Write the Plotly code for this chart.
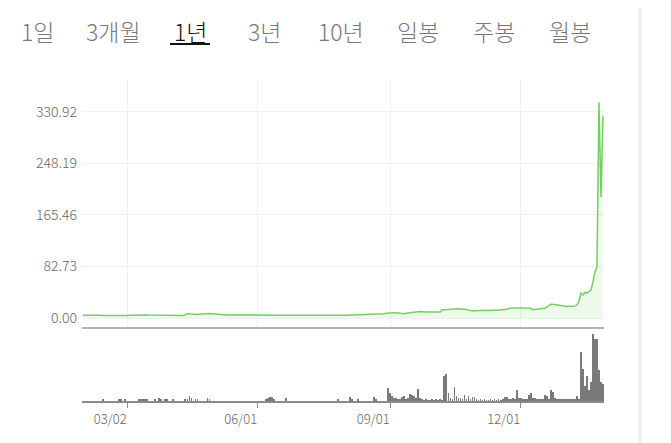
import plotly.graph_objects as go
import pandas as pd

# trading days shown on the 1-year chart
dates = pd.bdate_range("2020-01-30", "2021-01-27").strftime("%Y-%m-%d").tolist()

# closing price per day
price = [
    4.5, 4.6, 4.4, 4.5, 4.3, 4.4, 4.6, 4.5, 4.4, 4.3,
    4.2, 4.0, 4.1, 3.9, 4.0, 3.8, 3.9, 4.0, 3.8, 3.7,
    3.7, 3.9, 4.1, 4.3, 4.5, 4.4, 4.6, 4.8, 4.9, 5.0,
    5.1, 5.0, 5.0, 4.8, 4.7, 4.9, 4.6, 4.5, 4.2, 4.0,
    4.0, 4.2, 4.1, 3.8, 3.6, 3.4, 3.3, 3.2, 3.3, 3.6,
    4.0, 5.5, 7.2, 6.8, 6.4, 6.0, 5.8, 5.6, 6.2, 6.6,
    6.9, 7.0, 7.2, 7.2, 7.0, 6.6, 6.3, 6.2, 5.9, 5.6,
    5.4, 5.1, 4.9, 4.8, 4.7, 4.8, 4.6, 4.7, 4.9, 4.8,
    4.7, 4.8, 4.9, 5.0, 4.8, 4.7, 4.8, 4.9, 4.7, 4.6,
    4.8, 4.9, 5.0, 4.8, 4.7, 4.6, 4.5, 4.6, 4.7, 4.6,
    4.5, 4.6, 4.5, 4.4, 4.5, 4.6, 4.4, 4.3, 4.4, 4.3,
    4.3, 4.4, 4.3, 4.2, 4.3, 4.4, 4.3, 4.2, 4.3, 4.4,
    4.3, 4.4, 4.5, 4.4, 4.3, 4.4, 4.3, 4.4, 4.5, 4.6,
    4.5, 4.6, 4.7, 4.6, 4.7, 4.8, 4.7, 4.8, 4.9, 5.0,
    5.0, 5.1, 5.2, 5.4, 5.6, 5.5, 5.8, 5.9, 6.0, 6.3,
    7.0, 7.8, 8.2, 8.6, 8.4, 8.5, 8.3, 8.0, 7.2, 6.4,
    6.8, 7.5, 8.1, 8.5, 9.0, 9.6, 10.2, 10.0, 10.3, 9.8,
    10.1, 9.8, 9.6, 9.7, 9.5, 9.6, 9.8, 9.6, 9.7, 13.4,
    13.2, 13.6, 13.8, 14.0, 14.4, 14.2, 14.6, 14.8, 14.5, 14.4,
    14.2, 13.8, 12.5, 11.8, 11.5, 11.7, 12.0, 12.3, 12.1, 12.2,
    12.4, 12.0, 12.3, 12.1, 12.4, 12.2, 12.5, 12.3, 12.6, 12.8,
    13.2, 14.0, 15.2, 16.0, 16.2, 16.0, 16.3, 16.1, 16.4, 16.2,
    16.0, 16.3, 16.5, 15.8, 13.4, 13.6, 14.0, 14.4, 14.6, 15.0,
    15.8, 17.5, 20.0, 22.0, 22.2, 21.6, 21.0, 20.2, 19.4, 18.9,
    18.7, 18.5, 18.9, 18.6, 18.8, 19.5, 21.0, 26.0, 40.0, 37.0,
    41.0, 40.0, 42.0, 45.0, 58.0, 74.0, 82.0, 346.0, 194.0, 325.0,
]

# traded volume per day (relative, largest day = 100)
volume = [
    0, 0, 0, 0, 0, 0, 0, 0, 0, 0,
    3, 0, 0, 0, 0, 0, 0, 0, 3, 2.5,
    0, 3, 0, 0, 0, 0, 0, 0, 2.5, 3,
    2.5, 3, 2.5, 0, 0, 0, 3, 0, 4.5, 3,
    0, 3, 3, 0, 0, 2.5, 0, 0, 0, 0,
    0, 2.5, 3.5, 8, 4.5, 0, 2.5, 2.5, 0, 0,
    0, 0, 4.5, 3.5, 0, 0, 0, 0, 0, 0,
    0, 0, 0, 0, 0, 0, 0, 0, 0, 0,
    0, 0, 0, 0, 0, 0, 0, 0, 0, 0,
    0, 3, 4.5, 6, 6.5, 3, 0, 0, 0, 0,
    0, 4.5, 0, 0, 0, 0, 0, 0, 0, 0,
    0, 0, 0, 0, 0, 0, 0, 0, 0, 0,
    0, 0, 0, 0, 0, 0, 0, 3, 0, 0,
    0, 0, 0, 6, 3, 0, 0, 3, 0, 0,
    0, 0, 0, 0, 0, 6, 3, 0, 0, 0,
    0, 0, 19, 12, 8, 5, 4, 3, 2, 6.5,
    7.5, 3, 4, 10, 9.5, 8, 4, 18, 4, 2.5,
    1.5, 2, 1, 1, 2, 1, 2, 1, 2, 1,
    38, 40, 12, 4, 3, 21, 7, 5, 4, 3,
    9, 3, 7.5, 2, 6, 5.5, 2, 1.5, 2, 1,
    2, 1, 1.5, 2, 1, 2.5, 1, 2, 1.5, 2,
    5.5, 5.5, 3, 2, 4, 2, 16, 4.5, 4, 3,
    2.5, 3.5, 9, 12, 5, 4, 3, 2.5, 3, 2,
    9, 8, 3, 16, 14, 4, 3, 2.5, 3, 2,
    2.5, 2, 3, 2.5, 2, 3, 8, 2.5, 73, 48,
    23, 38, 17, 29, 100, 92, 92, 47, 29, 25,
]

tick_dates = ["2020-03-02", "2020-06-01", "2020-09-01", "2020-12-01"]
tick_text = ["03/02", "06/01", "09/01", "12/01"]
price_ticks = [0.00, 82.73, 165.46, 248.19, 330.92]

tabs = ["1일", "3개월", "1년", "3년", "10년", "일봉", "주봉", "월봉"]
selected_tab = "1년"

# the page puts the figure 8px in from the top-left corner,
# so every screen position below is moved back by that much
OFF = 8
W, H = 671, 443
L, R, T, B = 82 - OFF, 604 - OFF, 80 - OFF, 401 - OFF

def px(x):
    return (x - OFF - L) / (R - L)

def py(y):
    return (B - (y - OFF)) / (B - T)

fig = go.Figure()

fig.add_trace(go.Scatter(
    x=dates, y=price, mode="lines", fill="tozeroy",
    line=dict(color="#74cf61", width=1.5),
    fillcolor="rgba(120,215,100,0.13)",
    xaxis="x", yaxis="y", hoverinfo="skip",
))

fig.add_trace(go.Bar(
    x=dates, y=volume, width=0.4,
    marker=dict(color="#7a7a7a", line=dict(width=0)),
    xaxis="x2", yaxis="y2", hoverinfo="skip",
))

font_kr = "Noto Sans CJK KR, Noto Sans, sans-serif"

fig.update_layout(
    width=W, height=H,
    margin=dict(l=L, r=W - R, t=T, b=H - B),
    paper_bgcolor="white", plot_bgcolor="white",
    showlegend=False, bargap=0,
    font=dict(family=font_kr, color="#666"),
    xaxis=dict(
        type="category", anchor="y", domain=[0, 1],
        range=[-0.5, len(dates) - 0.5],
        tickvals=tick_dates, ticktext=tick_text, showticklabels=False,
        showgrid=True, gridcolor="#efefef", gridwidth=1,
        showline=True, linecolor="#b3b3b3", linewidth=2, ticks="",
    ),
    yaxis=dict(
        domain=[py(327), 1], range=[-14.4, 381.8],
        tickvals=price_ticks, ticktext=["%.2f" % v for v in price_ticks],
        tickfont=dict(size=14, color="#666", weight=300),
        showgrid=True, gridcolor="#efefef", gridwidth=1,
        zeroline=False, ticks="", ticklabelstandoff=4,
    ),
    xaxis2=dict(
        type="category", anchor="y2", matches="x", domain=[0, 1],
        tickvals=tick_dates, ticktext=tick_text,
        tickfont=dict(size=13, color="#666", weight=300),
        ticklabelshift=-17,
        showgrid=False, showline=True, linecolor="#8a8a8a", linewidth=2,
        ticks="outside", ticklen=5, tickcolor="#8a8a8a",
    ),
    yaxis2=dict(domain=[0, py(331)], range=[0, 104.5], visible=False),
)

# period tabs on top
tab_centers = [37.5, 113, 190, 264, 341, 417.5, 493.5, 569.5]
for name, cx in zip(tabs, tab_centers):
    fig.add_annotation(
        x=px(cx), y=py(31), xref="paper", yref="paper", text=name,
        showarrow=False, xanchor="center", yanchor="middle",
        font=dict(size=23, weight=300, family=font_kr,
                  color="#111" if name == selected_tab else "#777"),
    )

fig.add_shape(type="line", xref="paper", yref="paper",
              x0=px(170), x1=px(210), y0=py(44), y1=py(44),
              line=dict(color="#111", width=2))
fig.add_shape(type="line", xref="paper", yref="paper",
              x0=px(640), x1=px(640), y0=py(460), y1=py(0),
              line=dict(color="#ececec", width=3))
fig.add_shape(type="line", xref="paper", yref="paper",
              x0=px(669.5), x1=px(669.5), y0=py(392), y1=py(360),
              line=dict(color="#cfcfcf", width=2))

fig.write_html("out.html")
